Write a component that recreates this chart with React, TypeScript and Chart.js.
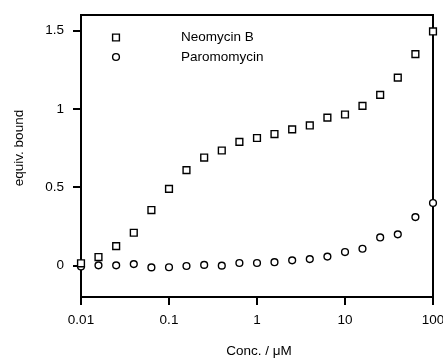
import React, { useEffect, useRef } from "react";
import { Chart, registerables } from "chart.js";

Chart.register(...registerables);

// ---- data ----
const concentrations = [
  0.01, 0.0158, 0.0251, 0.0398, 0.0631, 0.1, 0.158, 0.251, 0.398, 0.631, 1,
  1.58, 2.51, 3.98, 6.31, 10, 15.8, 25.1, 39.8, 63.1, 100,
];
const neomycinB = [
  0.015, 0.055, 0.125, 0.21, 0.355, 0.49, 0.61, 0.69, 0.735, 0.79, 0.815,
  0.84, 0.87, 0.895, 0.945, 0.965, 1.02, 1.09, 1.2, 1.35, 1.495,
];
const paromomycin = [
  -0.005, 0.002, 0.002, 0.01, -0.011, -0.01, -0.002, 0.005, 0, 0.017, 0.017,
  0.022, 0.034, 0.042, 0.058, 0.087, 0.108, 0.18, 0.2, 0.31, 0.4,
];
const seriesLabels = ["Neomycin B", "Paromomycin"];
const xTicks = [0.01, 0.1, 1, 10, 100];
const xTickLabels = ["0.01", "0.1", "1", "10", "100"];
const yTicks = [0, 0.5, 1, 1.5];
const yTickLabels = ["0", "0.5", "1", "1.5"];
const xTitle = "Conc. / μM";
const yTitle = "equiv. bound";

const FONT_FAMILY = "'Liberation Sans', Arial, Helvetica, sans-serif";
const FONT_SIZE = 13.5;

const decorPlugin = {
  id: "decor",
  beforeDatasetsDraw(chart: any) {
    const { ctx, chartArea: a } = chart;
    ctx.save();
    ctx.strokeStyle = "#000";
    ctx.lineWidth = 2;
    ctx.beginPath();
    ctx.moveTo(a.left - 1, a.top);
    ctx.lineTo(a.right, a.top);
    ctx.lineTo(a.right, a.bottom + 1);
    ctx.stroke();
    ctx.restore();
  },
  afterDraw(chart: any) {
    const { ctx } = chart;
    ctx.save();
    ctx.fillStyle = "#000";
    ctx.strokeStyle = "#000";
    ctx.font = `${FONT_SIZE}px ${FONT_FAMILY}`;

    // legend
    const rows = [37.5, 57];
    const mx = 116;
    const tx = 181;
    chart.data.datasets.forEach((ds: any, i: number) => {
      const y = rows[i];
      ctx.lineWidth = 1.4;
      ctx.fillStyle = "#fff";
      ctx.beginPath();
      if (ds.pointStyle === "rect") {
        const s = 3.4;
        ctx.rect(mx - s, y - s, 2 * s, 2 * s);
      } else {
        ctx.arc(mx, y, 3.4, 0, Math.PI * 2);
      }
      ctx.fill();
      ctx.stroke();
      ctx.fillStyle = "#000";
      ctx.textAlign = "left";
      ctx.textBaseline = "middle";
      ctx.fillText(ds.label, tx, y);
    });

    // axis titles
    ctx.textAlign = "center";
    ctx.textBaseline = "middle";
    ctx.fillText(xTitle, 259, 351);
    ctx.translate(19, 148);
    ctx.rotate(-Math.PI / 2);
    ctx.fillText(yTitle, 0, 0);
    ctx.restore();
  },
};

export default function App() {
  const ref = useRef<HTMLCanvasElement | null>(null);

  useEffect(() => {
    if (!ref.current) return;
    const font = { family: FONT_FAMILY, size: FONT_SIZE };
    const chart = new Chart(ref.current, {
      type: "scatter",
      data: {
        datasets: [
          {
            label: seriesLabels[0],
            data: concentrations.map((x, i) => ({ x, y: neomycinB[i] })),
            pointStyle: "rect",
            pointRadius: 4.8,
            borderColor: "#000",
            backgroundColor: "#fff",
            borderWidth: 1.4,
            clip: false as any,
          },
          {
            label: seriesLabels[1],
            data: concentrations.map((x, i) => ({ x, y: paromomycin[i] })),
            pointStyle: "circle",
            pointRadius: 3.4,
            borderColor: "#000",
            backgroundColor: "#fff",
            borderWidth: 1.4,
            clip: false as any,
          },
        ],
      },
      options: {
        responsive: false,
        animation: false,
        devicePixelRatio: 1,
        layout: { padding: { left: 0, right: 10, top: 15, bottom: 0 } },
        plugins: {
          legend: { display: false },
          tooltip: { enabled: false },
        },
        scales: {
          x: {
            type: "logarithmic",
            position: "bottom",
            min: 0.01,
            max: 100,
            afterBuildTicks: (scale: any) => {
              scale.ticks = xTicks.map((v) => ({ value: v, major: true }));
            },
            afterFit: (scale: any) => {
              scale.height = 63;
              scale.paddingLeft = 0;
              scale.paddingRight = 0;
            },
            grid: {
              drawOnChartArea: false,
              drawTicks: true,
              tickLength: 8,
              color: "#000",
              lineWidth: 2,
            },
            border: { display: true, color: "#000", width: 2 },
            ticks: {
              color: "#000",
              font,
              padding: 7,
              maxRotation: 0,
              autoSkip: false,
              callback: (v: any) => {
                const idx = xTicks.findIndex((t) => Math.abs(t - Number(v)) < 1e-9);
                return idx >= 0 ? xTickLabels[idx] : "";
              },
            },
          },
          y: {
            type: "linear",
            position: "left",
            min: -0.2,
            max: 1.6,
            afterBuildTicks: (scale: any) => {
              scale.ticks = yTicks.map((v) => ({ value: v }));
            },
            afterFit: (scale: any) => {
              scale.width = 81;
              scale.paddingTop = 0;
              scale.paddingBottom = 0;
            },
            grid: {
              drawOnChartArea: false,
              drawTicks: true,
              tickLength: 8,
              color: "#000",
              lineWidth: 2,
            },
            border: { display: true, color: "#000", width: 2 },
            ticks: {
              color: "#000",
              font,
              padding: 9,
              autoSkip: false,
              callback: (v: any) => {
                const idx = yTicks.findIndex((t) => Math.abs(t - Number(v)) < 1e-9);
                return idx >= 0 ? yTickLabels[idx] : "";
              },
            },
          },
        },
      },
      plugins: [decorPlugin],
    });
    return () => chart.destroy();
  }, []);

  return (
    <div style={{ position: "absolute", left: 0, top: 0, width: 443, height: 360, background: "#fff" }}>
      <canvas ref={ref} width={443} height={360} style={{ width: 443, height: 360 }} />
    </div>
  );
}
